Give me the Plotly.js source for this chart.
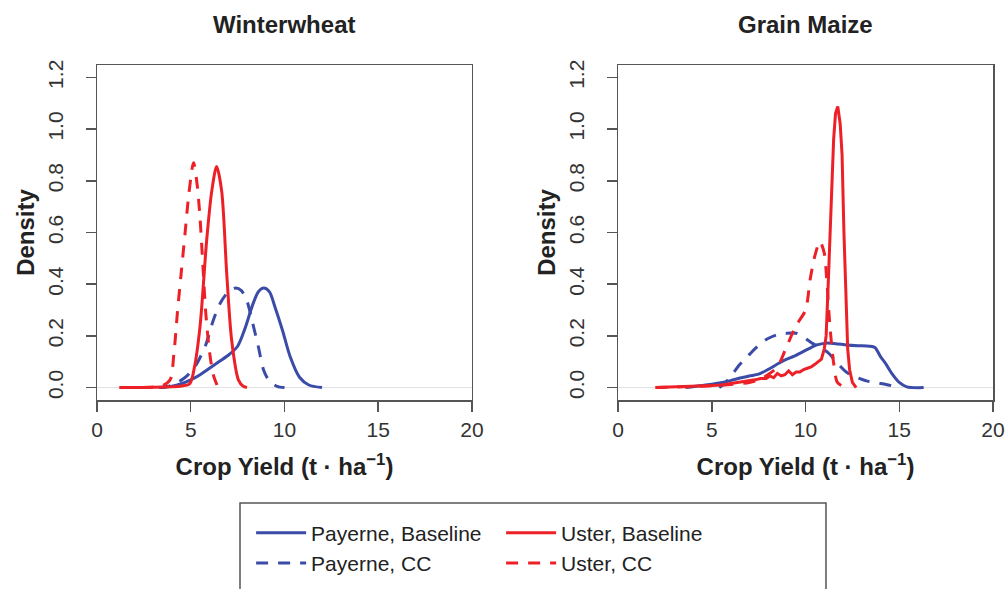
<!DOCTYPE html>
<html>
<head>
<meta charset="utf-8">
<script src="https://cdn.plot.ly/plotly-3.0.1.min.js"></script>
<style>html,body{margin:0;padding:0;background:#fff;}#chart{width:1007px;height:589px;}</style>
</head>
<body>
<div id="chart"></div>
<script>
// ---- Data ----
const panelTitles = ["Winterwheat", "Grain Maize"];
const seriesNames = ["Payerne, Baseline", "Payerne, CC", "Uster, Baseline", "Uster, CC"];
const xTicks = [0, 5, 10, 15, 20];
const yTicks = [0, 0.2, 0.4, 0.6, 0.8, 1.0, 1.2];
const yTickText = ["0.0", "0.2", "0.4", "0.6", "0.8", "1.0", "1.2"];

// Winterwheat
const wwPayBaseX = [3.4, 4.0, 4.5, 5.0, 5.5, 6.0, 6.5, 7.0, 7.5, 7.9, 8.3, 8.6, 8.9, 9.2, 9.5, 9.9, 10.3, 10.8, 11.3, 12.0];
const wwPayBaseY = [0, 0.005, 0.015, 0.03, 0.05, 0.075, 0.1, 0.125, 0.16, 0.23, 0.32, 0.37, 0.385, 0.37, 0.31, 0.22, 0.12, 0.04, 0.01, 0.0];
const wwPayCCX = [3.3, 3.8, 4.3, 4.8, 5.3, 5.8, 6.2, 6.6, 7.0, 7.4, 7.7, 8.0, 8.3, 8.6, 8.9, 9.2, 9.6, 10.0];
const wwPayCCY = [0, 0.005, 0.02, 0.045, 0.09, 0.165, 0.26, 0.33, 0.37, 0.385, 0.375, 0.335, 0.25, 0.16, 0.065, 0.025, 0.005, 0];
const wwUstBaseX = [1.2, 2, 3, 4, 4.5, 4.95, 5.2, 5.5, 5.85, 6.12, 6.38, 6.65, 6.92, 7.18, 7.54, 7.8, 8.0];
const wwUstBaseY = [0, 0, 0.001, 0.003, 0.006, 0.015, 0.08, 0.24, 0.57, 0.76, 0.855, 0.76, 0.44, 0.185, 0.03, 0.005, 0];
const wwUstCCX = [1.2, 2, 3, 3.5, 3.9, 4.1, 4.3, 4.5, 4.7, 4.9, 5.15, 5.35, 5.5, 5.65, 5.8, 6.0, 6.2, 6.4];
const wwUstCCY = [0, 0, 0.002, 0.008, 0.03, 0.13, 0.3, 0.45, 0.6, 0.75, 0.87, 0.78, 0.65, 0.47, 0.29, 0.14, 0.05, 0.01];

// Grain Maize
const gmPayBaseX = [3.6, 4.5, 5.4, 6.0, 6.5, 7.0, 7.5, 8.0, 8.6, 9.0, 9.4, 9.9, 10.3, 10.6, 11.1, 11.6, 12.2, 12.8, 13.4, 13.7, 14.0, 14.3, 14.6, 15.0, 15.4, 16.3];
const gmPayBaseY = [0, 0.008, 0.018, 0.027, 0.037, 0.045, 0.052, 0.07, 0.095, 0.11, 0.122, 0.14, 0.155, 0.165, 0.172, 0.17, 0.165, 0.162, 0.16, 0.155, 0.12, 0.09, 0.055, 0.02, 0.003, 0];
const gmPayCCX = [5.4, 5.8, 6.15, 6.5, 6.9, 7.3, 7.6, 8.0, 8.5, 9.0, 9.5, 9.8, 10.1, 10.4, 10.8, 11.2, 11.7, 12.1, 12.4, 12.9, 13.3, 13.8, 14.3, 14.9];
const gmPayCCY = [0, 0.025, 0.057, 0.09, 0.12, 0.15, 0.17, 0.19, 0.205, 0.21, 0.21, 0.2, 0.185, 0.17, 0.155, 0.135, 0.095, 0.065, 0.05, 0.035, 0.025, 0.018, 0.012, 0.002];
const gmUstBaseX = [2.0, 3, 4, 5, 5.5, 6, 6.5, 7, 7.3, 7.6, 7.9, 8.1, 8.3, 8.5, 8.7, 8.9, 9.1, 9.3, 9.5, 9.7, 9.9, 10.1, 10.3, 10.5, 10.7, 10.85, 11.0, 11.1, 11.2, 11.3, 11.4, 11.5, 11.6, 11.72, 11.85, 11.95, 12.05, 12.15, 12.25, 12.35, 12.5, 12.7];
const gmUstBaseY = [0, 0.002, 0.004, 0.008, 0.01, 0.015, 0.02, 0.025, 0.03, 0.035, 0.035, 0.045, 0.038, 0.055, 0.045, 0.05, 0.065, 0.05, 0.06, 0.06, 0.07, 0.075, 0.08, 0.09, 0.1, 0.11, 0.15, 0.2, 0.38, 0.6, 0.8, 0.96, 1.06, 1.088, 1.02, 0.9, 0.6, 0.33, 0.15, 0.07, 0.02, 0];
const gmUstCCX = [2.0, 3, 4, 5, 6, 6.5, 7, 7.5, 8.0, 8.5, 9.0, 9.5, 10.0, 10.25, 10.5, 10.77, 11.0, 11.13, 11.3, 11.5, 11.7, 12.0, 12.4];
const gmUstCCY = [0, 0.002, 0.004, 0.007, 0.012, 0.015, 0.02, 0.03, 0.05, 0.08, 0.16, 0.24, 0.3, 0.42, 0.51, 0.565, 0.52, 0.42, 0.24, 0.095, 0.02, 0.005, 0];

// ---- Styling ----
const BLUE = "#3b4ba8";
const RED = "#ee2027";
const FONT = "Liberation Sans, Arial, sans-serif";
const DASH = "12px,10px";

function tr(x, y, name, color, dash, xa, ya, show, group, smooth) {
  return {
    x: x, y: y, type: "scatter", mode: "lines", name: name,
    xaxis: xa, yaxis: ya, showlegend: show, legendgroup: group,
    line: {color: color, width: 3, dash: dash, shape: smooth ? "spline" : "linear", smoothing: 0.8},
    hoverinfo: "skip"
  };
}

const data = [
  tr(wwPayBaseX, wwPayBaseY, seriesNames[0], BLUE, "solid", "x", "y", true, "pay", true),
  tr(wwPayCCX, wwPayCCY, seriesNames[1], BLUE, DASH, "x", "y", true, "pay", true),
  tr(wwUstBaseX, wwUstBaseY, seriesNames[2], RED, "solid", "x", "y", true, "ust", true),
  tr(wwUstCCX, wwUstCCY, seriesNames[3], RED, DASH, "x", "y", true, "ust", true),
  tr(gmPayBaseX, gmPayBaseY, seriesNames[0], BLUE, "solid", "x2", "y2", false, "pay", true),
  tr(gmPayCCX, gmPayCCY, seriesNames[1], BLUE, DASH, "x2", "y2", false, "pay", true),
  tr(gmUstBaseX, gmUstBaseY, seriesNames[2], RED, "solid", "x2", "y2", false, "ust", false),
  tr(gmUstCCX, gmUstCCY, seriesNames[3], RED, DASH, "x2", "y2", false, "ust", true)
];

function xax(domain, anchor) {
  return {
    domain: domain, anchor: anchor, range: [0, 20], tickvals: xTicks,
    ticks: "outside", ticklen: 10, tickwidth: 1.5, tickcolor: "#555",
    showline: true, mirror: true, linecolor: "#555", linewidth: 1.5,
    showgrid: false, zeroline: false, ticklabelstandoff: 0,
    tickfont: {family: FONT, size: 21, color: "#333"},
    title: {text: "<b>Crop Yield (t · ha<sup>−1</sup>)</b>", font: {family: FONT, size: 24, color: "#222"}, standoff: 18}
  };
}
function yax(anchor) {
  return {
    domain: [0, 1], anchor: anchor, range: [-0.048, 1.248], tickvals: yTicks, ticktext: yTickText,
    tickangle: -90, ticks: "outside", ticklen: 10, tickwidth: 1.5, tickcolor: "#555",
    showline: true, mirror: true, linecolor: "#555", linewidth: 1.5,
    showgrid: false, zeroline: true, zerolinecolor: "#e2e2e2", zerolinewidth: 1,
    ticklabelstandoff: 14,
    tickfont: {family: FONT, size: 21, color: "#333"},
    title: {text: "<b>Density</b>", font: {family: FONT, size: 24, color: "#222"}, standoff: 2}
  };
}

const layout = {
  width: 1007, height: 589,
  margin: {l: 97, r: 14, t: 65, b: 189, autoexpand: false},
  paper_bgcolor: "#fff", plot_bgcolor: "#fff",
  font: {family: FONT, color: "#222"},
  xaxis: xax([0, 0.4185], "y"),
  yaxis: yax("x"),
  xaxis2: xax([0.5815, 1], "y2"),
  yaxis2: yax("x2"),
  showlegend: true,
  legend: {
    orientation: "h", traceorder: "grouped", x: 0.172, xanchor: "left", y: -0.336, yanchor: "top",
    font: {family: FONT, size: 21, color: "#222"}, borderwidth: 0, bgcolor: "rgba(0,0,0,0)",
    itemwidth: 50, entrywidth: 185, itemclick: false, itemdoubleclick: false
  },
  shapes: [{
    type: "rect", xref: "paper", yref: "paper", x0: 0.1596, x1: 0.8136, y0: -0.3075, y1: -0.70,
    line: {color: "#555", width: 1.5}, fillcolor: "rgba(0,0,0,0)"
  }],
  annotations: [
    {text: "<b>" + panelTitles[0] + "</b>", xref: "paper", yref: "paper", x: 0.20925, y: 1.12, xanchor: "center", yanchor: "middle", showarrow: false, font: {family: FONT, size: 24, color: "#222"}},
    {text: "<b>" + panelTitles[1] + "</b>", xref: "paper", yref: "paper", x: 0.79075, y: 1.12, xanchor: "center", yanchor: "middle", showarrow: false, font: {family: FONT, size: 24, color: "#222"}}
  ]
};

Plotly.newPlot("chart", data, layout, {displayModeBar: false, staticPlot: true});
</script>
</body>
</html>
